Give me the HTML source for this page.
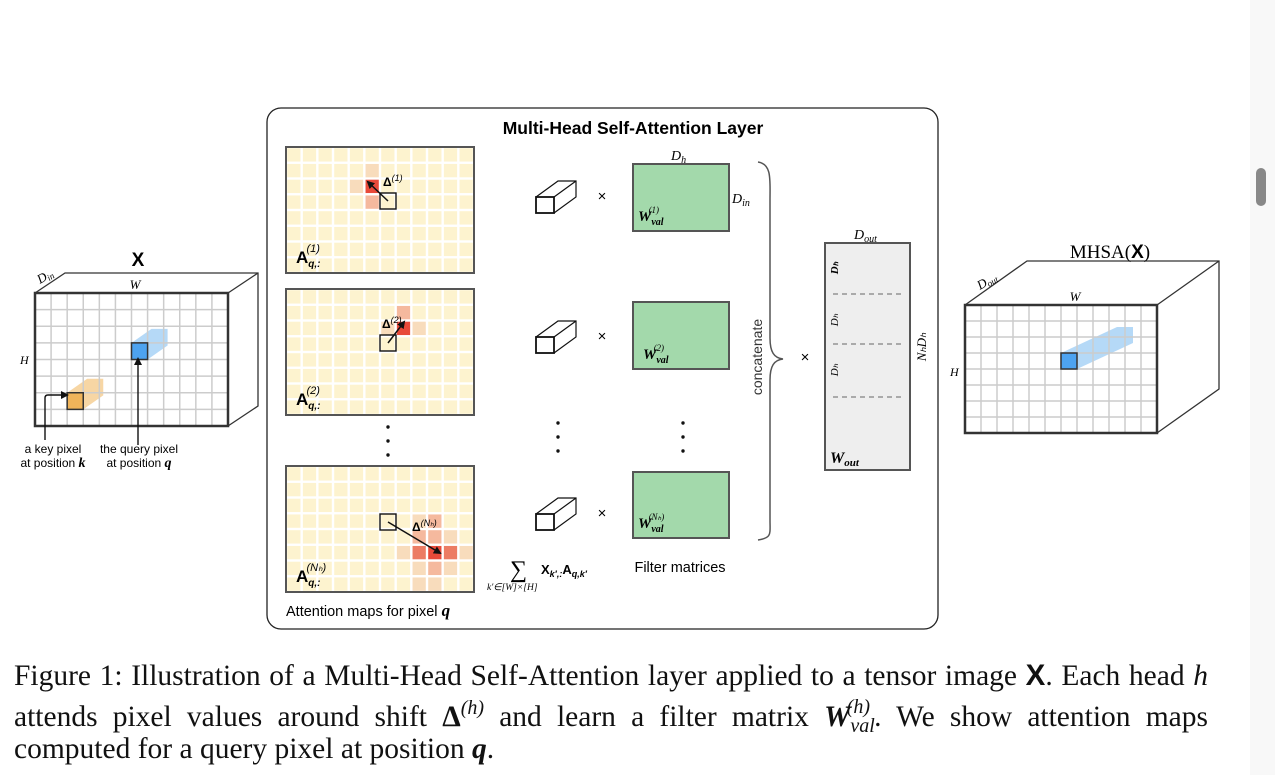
<!DOCTYPE html>
<html><head><meta charset="utf-8">
<style>
body{margin:0;background:#fff;width:1275px;height:775px;overflow:hidden;position:relative}
svg{position:absolute;left:0;top:0}
.cl{position:absolute;left:14px;width:1194px;font-family:"Liberation Serif",serif;font-size:29.5px;line-height:30px;height:30px;color:#111;white-space:nowrap}
.j{text-align:justify;text-align-last:justify}
.cl sup,.cl sub{vertical-align:baseline;position:relative;line-height:0}
.sans{font-family:"Liberation Sans",sans-serif}
.ser{font-family:"Liberation Serif",serif}
</style></head><body>
<svg id="fig" width="1275" height="775" viewBox="0 0 1275 775">
<defs>
<marker id="ah" markerWidth="8" markerHeight="8" refX="6" refY="4" orient="auto" markerUnits="userSpaceOnUse"><path d="M0,0 L8,4 L0,8 z" fill="#111"/></marker>
</defs>
<rect x="1250" y="0" width="25" height="775" fill="#f8f8f8"/>
<rect x="1256" y="168" width="10" height="38" rx="5" fill="#888"/>
<rect x="267" y="108" width="671" height="521" rx="14" fill="none" stroke="#222" stroke-width="1.3"/>
<text x="633" y="134" text-anchor="middle" class="sans" font-size="17.5" font-weight="bold">Multi-Head Self-Attention Layer</text>
<g id="maps"></g>
<g id="cubes"></g>
<g id="vecs"></g>
<rect x="633" y="164" width="96" height="67" fill="#a3d9ab" stroke="#555" stroke-width="2"/>
<rect x="633" y="302" width="96" height="67" fill="#a3d9ab" stroke="#555" stroke-width="2"/>
<rect x="633" y="472" width="96" height="66" fill="#a3d9ab" stroke="#555" stroke-width="2"/>
<text x="638" y="221" class="ser" font-size="15" font-weight="bold" font-style="italic">W<tspan font-size="10" dy="4">val</tspan><tspan font-size="9" dx="-15" dy="-12" font-weight="normal">(1)</tspan></text>
<text x="643" y="359" class="ser" font-size="15" font-weight="bold" font-style="italic">W<tspan font-size="10" dy="4">val</tspan><tspan font-size="9" dx="-15" dy="-12" font-weight="normal">(2)</tspan></text>
<text x="638" y="528" class="ser" font-size="15" font-weight="bold" font-style="italic">W<tspan font-size="10" dy="4">val</tspan><tspan font-size="9" dx="-15" dy="-12" font-weight="normal">(Nₕ)</tspan></text>
<text x="671" y="160" class="ser" font-size="14" font-style="italic">D<tspan font-size="10" dy="3">h</tspan></text>
<text x="732" y="203" class="ser" font-size="14" font-style="italic">D<tspan font-size="10" dy="3">in</tspan></text>
<g fill="#111">
<circle cx="388" cy="427" r="1.7"/><circle cx="388" cy="441" r="1.7"/><circle cx="388" cy="455" r="1.7"/>
<circle cx="558" cy="423" r="1.7"/><circle cx="558" cy="437" r="1.7"/><circle cx="558" cy="451" r="1.7"/>
<circle cx="683" cy="423" r="1.7"/><circle cx="683" cy="437" r="1.7"/><circle cx="683" cy="451" r="1.7"/>
<circle cx="869" cy="413" r="1.3"/><circle cx="869" cy="422" r="1.3"/><circle cx="869" cy="431" r="1.3"/>
</g>
<path d="M758,162 C772,164 770,180 770,200 L770,338 C770,352 774,358 783,359 C774,360 770,366 770,380 L770,520 C770,534 772,538 758,540" fill="none" stroke="#555" stroke-width="1.5"/>
<text transform="translate(762,357) rotate(-90)" text-anchor="middle" class="sans" font-size="14" fill="#333">concatenate</text>
<text x="805" y="362" text-anchor="middle" class="sans" font-size="15">×</text>
<rect x="825" y="243" width="85" height="227" fill="#eee" stroke="#555" stroke-width="2"/>
<g stroke="#666" stroke-dasharray="5,4" stroke-width="1"><line x1="833" y1="294" x2="902" y2="294"/><line x1="833" y1="344" x2="902" y2="344"/><line x1="833" y1="397" x2="902" y2="397"/></g>
<text transform="translate(838,268) rotate(-90)" text-anchor="middle" class="ser" font-size="11" font-style="italic" font-weight="bold">Dₕ</text>
<text transform="translate(838,320) rotate(-90)" text-anchor="middle" class="ser" font-size="11" font-style="italic">Dₕ</text>
<text transform="translate(838,370) rotate(-90)" text-anchor="middle" class="ser" font-size="11" font-style="italic">Dₕ</text>
<text x="830" y="463" class="ser" font-size="16" font-weight="bold" font-style="italic">W<tspan font-size="11" dy="3">out</tspan></text>
<text x="854" y="239" class="ser" font-size="14" font-style="italic">D<tspan font-size="10" dy="3">out</tspan></text>
<text transform="translate(926,347) rotate(-90)" text-anchor="middle" class="ser" font-size="13" font-style="italic">NₕDₕ</text>
<text x="510" y="577" class="ser" font-size="24">∑</text>
<text x="541" y="574" class="sans" font-size="13" font-weight="bold">X<tspan font-size="9" dy="3" font-style="italic">k′,:</tspan><tspan dy="-3">A</tspan><tspan font-size="9" dy="3" font-style="italic">q,k′</tspan></text>
<text x="487" y="590" class="ser" font-size="9.5" font-style="italic">k′∈[W]×[H]</text>
<text x="680" y="572" text-anchor="middle" class="sans" font-size="14.5">Filter matrices</text>
<text x="286" y="616" class="sans" font-size="14.5">Attention maps for pixel <tspan class="ser" font-style="italic" font-weight="bold" font-size="17">q</tspan></text>
<text x="138" y="266" text-anchor="middle" class="sans" font-size="19" font-weight="bold">X</text>
<text x="135" y="289" text-anchor="middle" class="ser" font-size="13" font-style="italic">W</text>
<text transform="translate(40,284) rotate(-30)" class="ser" font-size="13" font-style="italic">D<tspan font-size="9" dy="2">in</tspan></text>
<text x="20" y="364" class="ser" font-size="12" font-style="italic">H</text>
<path d="M45,440 L45,398 Q45,395 48,395 L67,395" fill="none" stroke="#111" stroke-width="1.4" marker-end="url(#ah)"/>
<line x1="138" y1="445" x2="138" y2="359" stroke="#111" stroke-width="1.4" marker-end="url(#ah)"/>
<text x="53" y="453" text-anchor="middle" class="sans" font-size="12">a key pixel</text>
<text x="53" y="467" text-anchor="middle" class="sans" font-size="12">at position <tspan class="ser" font-style="italic" font-weight="bold" font-size="14">k</tspan></text>
<text x="139" y="453" text-anchor="middle" class="sans" font-size="12">the query pixel</text>
<text x="139" y="467" text-anchor="middle" class="sans" font-size="12">at position <tspan class="ser" font-style="italic" font-weight="bold" font-size="14">q</tspan></text>
<text x="1110" y="258" text-anchor="middle" class="ser" font-size="19">MHSA(<tspan class="sans" font-weight="bold">X</tspan>)</text>
<text x="1075" y="301" text-anchor="middle" class="ser" font-size="13" font-style="italic">W</text>
<text transform="translate(980,290) rotate(-30)" class="ser" font-size="13" font-style="italic">D<tspan font-size="9" dy="2">out</tspan></text>
<text x="950" y="376" class="ser" font-size="12" font-style="italic">H</text>
</svg>
<div>
<div class="cl j" style="top:661px">Figure 1: Illustration of a Multi-Head Self-Attention layer applied to a tensor image <b class="sans">X</b>. Each head <i>h</i></div>
<div class="cl j" style="top:702px">attends pixel values around shift <b>Δ</b><sup style="font-size:20px;top:-12px"><i>(h)</i></sup> and learn a filter matrix <b><i>W</i></b><sub style="font-size:20px;top:6px"><i>val</i></sub><sup style="font-size:20px;top:-13px;margin-left:-28px;margin-right:4px"><i>(h)</i></sup>. We show attention maps</div>
<div class="cl" style="top:734px">computed for a query pixel at position <b><i>q</i></b>.</div>
</div>
<script>
const NS="http://www.w3.org/2000/svg";
function mk(tag,attrs,parent){const e=document.createElementNS(NS,tag);for(const k in attrs)e.setAttribute(k,attrs[k]);parent.appendChild(e);return e;}
const COLS=12, ROWS=8;
const head1Cells=[[5,1,1],[4,2,1],[5,2,4],[5,3,2]];
const head2Cells=[[7,1,2],[6,2,1],[7,2,4],[8,2,1]];
const head3Cells=[[8,3,1],[9,3,2],[8,4,2],[9,4,2],[10,4,1],[7,5,1],[8,5,3],[9,5,4],[10,5,3],[11,5,1],[8,6,1],[9,6,2],[10,6,1],[8,7,1],[9,7,1]];
const heatColors=["#fdf3cf","#f8dcbc","#f5b99e","#ec7c64","#e84a3a"];
const maps=[
 {y:147,cells:head1Cells,sq:[380,193],tip:[368,182],lab:"(1)",dl:[383,186],name:"attention-map-1"},
 {y:289,cells:head2Cells,sq:[380,335],tip:[404,322],lab:"(2)",dl:[382,328],name:"attention-map-2"},
 {y:466,cells:head3Cells,sq:[380,514],tip:[440,553],lab:"(Nₕ)",dl:[412,531],name:"attention-map-nh"}
];
const g=document.getElementById('maps');
maps.forEach(m=>{
 const grp=mk('g',{},g);
 
 
 const x0=286,w=188,h=126,cw=w/COLS,ch=h/ROWS;
 mk('rect',{x:x0,y:m.y,width:w,height:h,fill:'#fff'},grp);
 for(let r=0;r<ROWS;r++)for(let c=0;c<COLS;c++){
   let lv=0;m.cells.forEach(a=>{if(a[0]===c&&a[1]===r)lv=a[2];});
   const cell=mk('rect',{x:x0+c*cw+1.2,y:m.y+r*ch+1.2,width:cw-2.4,height:ch-2.4,fill:heatColors[lv]},grp);
   
   
 }
 mk('rect',{x:x0,y:m.y,width:w,height:h,fill:'none',stroke:'#555','stroke-width':2},grp);
 mk('rect',{x:m.sq[0],y:m.sq[1],width:16,height:16,fill:'none',stroke:'#111','stroke-width':1.4},grp);
 mk('line',{x1:m.sq[0]+8,y1:m.sq[1]+8,x2:m.tip[0],y2:m.tip[1],stroke:'#111','stroke-width':1.5,'marker-end':'url(#ah)'},grp);
 const t=mk('text',{x:m.dl[0],y:m.dl[1],'font-family':'Liberation Sans,sans-serif','font-size':12,'font-weight':'bold'},grp);
 t.textContent='Δ';
 const s=mk('tspan',{'font-size':9,dy:-5,'font-weight':'normal','font-style':'italic'},t);s.textContent=m.lab;
 const a=mk('text',{x:296,y:m.y+h-10,'font-family':'Liberation Sans,sans-serif','font-size':17,'font-weight':'bold'},grp);
 a.textContent='A';
 const s2=mk('tspan',{'font-size':10,dy:4,'font-style':'italic'},a);s2.textContent='q,:';
 const s3=mk('tspan',{'font-size':11,dx:-14,dy:-15,'font-weight':'normal','font-style':'italic'},a);s3.textContent=m.lab;
});
const cg=document.getElementById('cubes');
function cube(x,y,w,h,dx,dy,name,tubes){
 const grp=mk('g',{},cg);
 
 
 mk('path',{d:`M${x},${y} L${x+dx},${y-dy} L${x+w+dx},${y-dy} L${x+w+dx},${y+h-dy} L${x+w},${y+h} M${x+w},${y} L${x+w+dx},${y-dy}`,fill:'none',stroke:'#333','stroke-width':1.3},grp);
 mk('rect',{x:x,y:y,width:w,height:h,fill:'#fff'},grp);
 const cw=w/COLS,ch=h/ROWS;
 tubes.forEach(t=>{
  const tx=x+t.c*cw,ty=y+t.r*ch,L=t.len;
  mk('path',{d:`M${tx},${ty} L${tx+L[0]},${ty-L[1]} L${tx+cw+L[0]},${ty-L[1]} L${tx+cw+L[0]},${ty+ch-L[1]} L${tx+cw},${ty+ch} Z`,fill:t.light,stroke:'none'},grp);
 });
 for(let c=1;c<COLS;c++)mk('line',{x1:x+c*cw,y1:y,x2:x+c*cw,y2:y+h,stroke:'#ccc','stroke-width':1.5},grp);
 for(let r=1;r<ROWS;r++)mk('line',{x1:x,y1:y+r*ch,x2:x+w,y2:y+r*ch,stroke:'#ccc','stroke-width':1.5},grp);
 tubes.forEach(t=>{
  const tx=x+t.c*cw,ty=y+t.r*ch;
  const px=mk('rect',{x:tx,y:ty,width:cw,height:ch,fill:t.color,stroke:'#333','stroke-width':1.5},grp);
  
  
 });
 mk('rect',{x:x,y:y,width:w,height:h,fill:'none',stroke:'#333','stroke-width':2.5},grp);
}
cube(35,293,193,133,30,20,'input-tensor-x',[
 {c:6,r:3,len:[20,14],color:'#4da3f0',light:'rgba(120,185,240,0.55)',name:'query-pixel'},
 {c:2,r:6,len:[20,14],color:'#f0b45a',light:'rgba(240,180,90,0.55)',name:'key-pixel'}]);
cube(965,305,192,128,62,44,'output-tensor-mhsa',[
 {c:6,r:3,len:[56,26],color:'#4da3f0',light:'rgba(120,185,240,0.55)',name:'output-pixel'}]);
const vg=document.getElementById('vecs');
[197,337,514].forEach((y,i)=>{
 const grp=mk('g',{},vg);
 
 
 mk('path',{d:`M536,${y} L558,${y-16} L576,${y-16} L576,${y} L554,${y+16} M554,${y} L576,${y-16}`,fill:'#fff',stroke:'#111','stroke-width':1.2},grp);
 mk('rect',{x:536,y:y,width:18,height:16,fill:'#fff',stroke:'#111','stroke-width':1.8},grp);
 const t=mk('text',{x:602,y:y+4,'text-anchor':'middle','font-family':'Liberation Sans,sans-serif','font-size':15},grp);
 t.textContent='×';
});
</script>
</body></html>
